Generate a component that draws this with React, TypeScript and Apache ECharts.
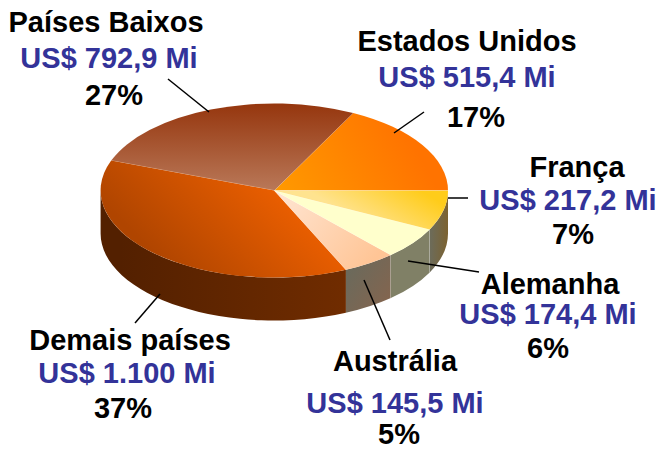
import React, { useEffect, useRef } from "react";
import * as echarts from "echarts";

const categories = ["Estados Unidos", "Países Baixos", "Demais países", "Austrália", "Alemanha", "França"];
const values = [515.4, 792.9, 1100, 145.5, 174.4, 217.2];
const valueLabels = ["US$ 515,4 Mi", "US$ 792,9 Mi", "US$ 1.100 Mi", "US$ 145,5 Mi", "US$ 174,4 Mi", "US$ 217,2 Mi"];
const shareLabels = ["17%", "27%", "37%", "5%", "6%", "7%"];

const CX = 274.3, CY = 190.5, RX = 173.7, RY = 87, DEPTH = 43;
const TOTAL = values.reduce((a, b) => a + b, 0);
const FONT = '"Liberation Sans", Arial, sans-serif';

const grad = (x0: number, y0: number, x1: number, y1: number, a: string, b: string) =>
  new echarts.graphic.LinearGradient(x0, y0, x1, y1, [{ offset: 0, color: a }, { offset: 1, color: b }], true);

const topFills = [
  grad(274, 190, 400, 120, "#FF9A00", "#FF7300"),
  grad(274, 105, 274, 190, "#96370F", "#B97858"),
  grad(290, 190, 190, 290, "#EE6000", "#B04500"),
  grad(280, 195, 370, 265, "#FFE4D0", "#FFC596"),
  grad(280, 195, 420, 240, "#FFFFCC", "#FFFFCC"),
  grad(420, 190, 390, 240, "#FFCC1A", "#FFE38F"),
];
const sideFills = [
  "#000", "#000",
  grad(120, 0, 345, 0, "#532000", "#702C00"),
  grad(345, 270, 390, 300, "#6A6A5C", "#83654F"),
  grad(390, 0, 430, 0, "#808066", "#808066"),
  grad(431, 0, 448, 0, "#6D6B58", "#7C6230"),
];

// Leader lines and text placement
const leaders = [
  [424, 112, 394, 133],
  [168, 79, 209, 112],
  [160, 294, 135, 323],
  [364, 280, 390, 340],
  [408, 261, 479, 272],
  [448, 198, 468, 198],
];
const labelPos = [
  [[467, 41], [467, 77], [476, 117]],
  [[106, 22], [109, 58], [114, 95]],
  [[130, 340], [127, 373], [123, 408]],
  [[395, 361], [395, 403], [399, 434]],
  [[550, 284], [548, 314], [548, 348]],
  [[577, 167], [568, 200], [573, 234]],
];

const pt = (deg: number, dy = 0) => {
  const t = (deg * Math.PI) / 180;
  return [CX + RX * Math.cos(t), CY - RY * Math.sin(t) + dy];
};

const angleRange = (i: number) => {
  let before = 0;
  for (let k = 0; k < i; k++) before += values[k];
  return [(before / TOTAL) * 360, ((before + values[i]) / TOTAL) * 360];
};

const renderSide = (params: any, api: any) => {
  const i = params.dataIndex;
  api.value(0);
  const [a0, a1] = angleRange(i);
  const a = Math.max(a0, 180), b = Math.min(a1, 360);
  if (b <= a) return { type: "group", children: [] };
  const p0 = pt(a), p1 = pt(b), q1 = pt(b, DEPTH), q0 = pt(a, DEPTH);
  const d = `M${p0[0]} ${p0[1]}A${RX} ${RY} 0 0 0 ${p1[0]} ${p1[1]}L${q1[0]} ${q1[1]}A${RX} ${RY} 0 0 1 ${q0[0]} ${q0[1]}Z`;
  const children: any[] = [
    { type: "path", shape: { pathData: d }, style: { fill: sideFills[i] } },
  ];
  if (i >= 3 && i < 5) {
    children.push({
      type: "line",
      shape: { x1: p1[0], y1: p1[1], x2: q1[0], y2: q1[1] },
      style: { stroke: "rgba(255,255,255,0.45)", lineWidth: 1 },
    });
  }
  return { type: "group", children };
};

const renderTop = (params: any, api: any) => {
  const i = params.dataIndex;
  api.value(0);
  const [a, b] = angleRange(i);
  const p0 = pt(a), p1 = pt(b);
  const large = b - a > 180 ? 1 : 0;
  const d = `M${CX} ${CY}L${p0[0]} ${p0[1]}A${RX} ${RY} 0 ${large} 0 ${p1[0]} ${p1[1]}Z`;
  return {
    type: "group",
    children: [
      { type: "path", shape: { pathData: d }, style: { fill: topFills[i] } },
      {
        type: "line",
        shape: { x1: CX, y1: CY, x2: p1[0], y2: p1[1] },
        style: { stroke: "rgba(255,255,255,0.3)", lineWidth: 0.8 },
      },
    ],
  };
};

export default function App() {
  const ref = useRef<HTMLDivElement>(null);
  useEffect(() => {
    document.body.style.margin = "0";
    const chart = echarts.init(ref.current!, undefined, { renderer: "svg" });
    const texts: any[] = [];
    categories.forEach((name, i) => {
      [name, valueLabels[i], shareLabels[i]].forEach((text, j) => {
        texts.push({
          type: "text",
          x: labelPos[i][j][0],
          y: labelPos[i][j][1],
          z: 20,
          style: {
            text,
            font: `bold 29px ${FONT}`,
            fill: j === 1 ? "#333399" : "#000000",
            textAlign: "center",
            textVerticalAlign: "middle",
          },
        });
      });
    });
    const lines = leaders.map((l) => ({
      type: "line",
      z: 10,
      shape: { x1: l[0], y1: l[1], x2: l[2], y2: l[3] },
      style: { stroke: "#000", lineWidth: 1.5 },
    }));
    chart.setOption({
      animation: false,
      backgroundColor: "#ffffff",
      series: [
        {
          type: "custom",
          coordinateSystem: "none",
          silent: true,
          z: 1,
          data: values.map((value, i) => ({ name: categories[i], value })),
          renderItem: renderSide,
        },
        {
          type: "custom",
          coordinateSystem: "none",
          silent: true,
          z: 2,
          data: values.map((value, i) => ({ name: categories[i], value })),
          renderItem: renderTop,
        },
      ],
      graphic: { elements: [...lines, ...texts] },
    });
    return () => chart.dispose();
  }, []);
  return <div ref={ref} style={{ width: 660, height: 449 }} />;
}
